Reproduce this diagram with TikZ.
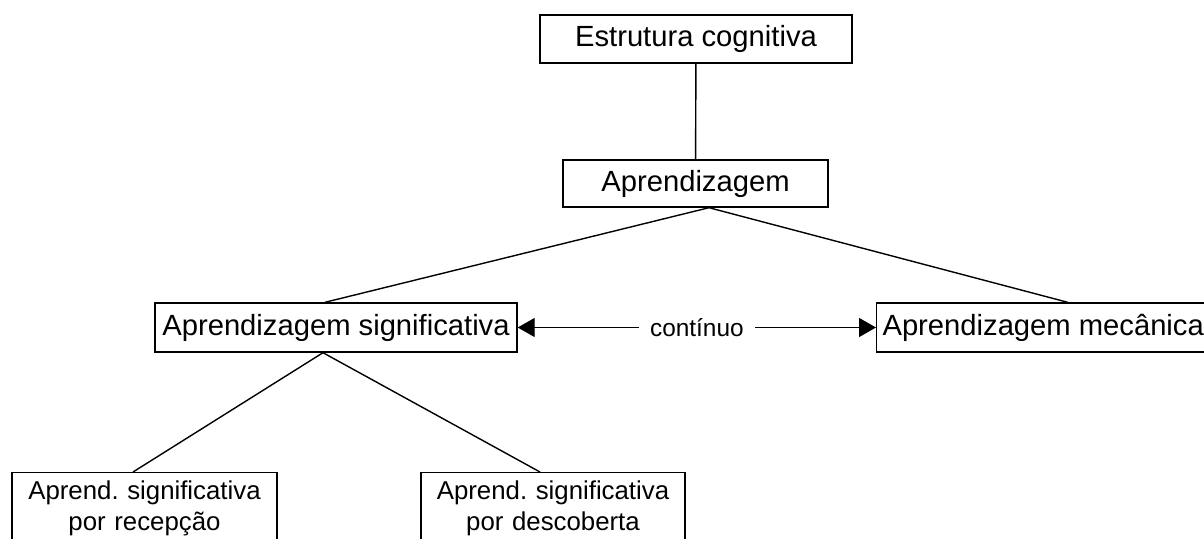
\documentclass[tikz,border=0pt]{standalone}
\usepackage{fontspec}
\setmainfont{Liberation Sans}
\usetikzlibrary{arrows.meta,positioning,calc}
\frenchspacing

\tikzset{
  box/.style={draw, line width=0.7pt, inner sep=2pt, font=\fontsize{14.6}{17}\selectfont},
  sub/.style={draw, line width=0.7pt, anchor=north, align=center, inner xsep=3pt, inner ysep=4pt, font=\fontsize{12.9}{15.5}\selectfont},
  lbl/.style={fill=white, inner xsep=5.5pt, font=\fontsize{12.2}{14}\selectfont},
  link/.style={line width=0.7pt},
  tip/.style={{Triangle[length=8.5pt,width=9.5pt]}-{Triangle[length=8.5pt,width=9.5pt]}},
}

\begin{document}
\begin{tikzpicture}[x=0.5pt, y=-0.5pt]
  \useasboundingbox (0,0) rectangle (1204,539);
  \clip (0,0) rectangle (1204,539);

  \node[box, minimum width=156pt, minimum height=24pt] (est) at (696,39) {Estrutura cognitiva};
  \node[box, minimum width=132.5pt, minimum height=23.5pt] (apr) at (695.5,183.5) {Aprendizagem};
  \node[box, minimum width=181pt, minimum height=24.5pt] (sig) at (336,327.5) {Aprendizagem significativa};
  \node[box, minimum width=166.5pt, minimum height=24.5pt, anchor=west] (mec) at (876,327.5) {Aprendizagem mecânica};
  \node[sub, text width=126.5pt] (rec) at (144.5,472) {Aprend. significativa\\por recepção};
  \node[sub, text width=126pt] (desc) at (553,472) {Aprend. significativa\\por descoberta};

  % ligações
  \draw[link] (est) -- (apr);
  \draw[link] ([xshift=6.75pt]apr.south) -- ([xshift=-5.5pt]sig.north);
  \draw[link] ([xshift=6.75pt]apr.south) -- ([xshift=12.25pt]mec.north);
  \draw[link] ([xshift=-6.5pt]sig.south) -- ([xshift=-5.75pt]rec.north);
  \draw[link] ([xshift=-6.5pt]sig.south) -- ([xshift=-6.5pt]desc.north);
  \draw[link, tip] (sig) -- node[lbl] {contínuo} (mec);
\end{tikzpicture}
\end{document}
